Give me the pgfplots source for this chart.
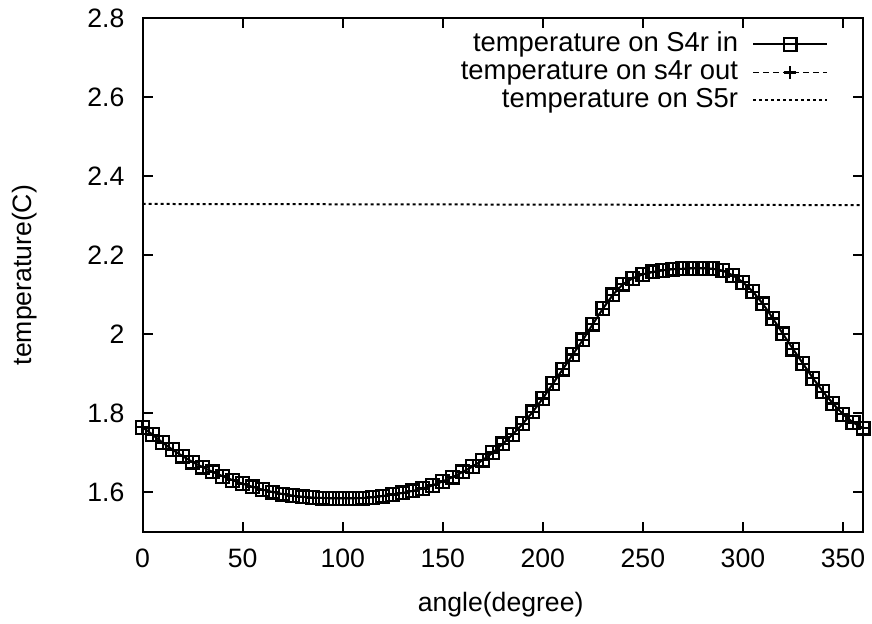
\documentclass[border=0pt]{standalone}
\usepackage{fontspec}
\setmainfont{Liberation Sans}
\usepackage{pgfplots}
\pgfplotsset{compat=1.18}
\usepackage{pgfplotstable}
\pgfplotstableread{
x y
0 1.765
5 1.746
10 1.726
15 1.708
20 1.692
25 1.677
30 1.664
35 1.652
40 1.641
45 1.631
50 1.622
55 1.614
60 1.607
65 1.601
70 1.596
75 1.592
80 1.589
85 1.587
90 1.586
95 1.585
100 1.585
105 1.585
110 1.586
115 1.588
120 1.591
125 1.595
130 1.599
135 1.604
140 1.610
145 1.618
150 1.628
155 1.639
160 1.652
165 1.666
170 1.682
175 1.701
180 1.723
185 1.747
190 1.774
195 1.804
200 1.838
205 1.875
210 1.912
215 1.949
220 1.986
225 2.026
230 2.065
235 2.100
240 2.127
245 2.142
250 2.152
255 2.158
260 2.162
265 2.165
270 2.166
275 2.167
280 2.167
285 2.166
290 2.161
295 2.149
300 2.132
305 2.108
310 2.077
315 2.040
320 2.001
325 1.963
330 1.926
335 1.889
340 1.855
345 1.825
350 1.798
355 1.777
360 1.763
}\tblin
\pgfplotstableread{
x y
0 1.765
5 1.746
10 1.726
15 1.708
20 1.692
25 1.677
30 1.664
35 1.652
40 1.641
45 1.631
50 1.622
55 1.614
60 1.607
65 1.601
70 1.596
75 1.592
80 1.589
85 1.587
90 1.586
95 1.585
100 1.585
105 1.585
110 1.586
115 1.588
120 1.591
125 1.595
130 1.599
135 1.604
140 1.610
145 1.618
150 1.628
155 1.639
160 1.652
165 1.666
170 1.682
175 1.701
180 1.723
185 1.747
190 1.774
195 1.804
200 1.838
205 1.875
210 1.912
215 1.949
220 1.986
225 2.026
230 2.065
235 2.100
240 2.127
245 2.142
250 2.152
255 2.158
260 2.162
265 2.165
270 2.166
275 2.167
280 2.167
285 2.166
290 2.161
295 2.149
300 2.132
305 2.108
310 2.077
315 2.040
320 2.001
325 1.963
330 1.926
335 1.889
340 1.855
345 1.825
350 1.798
355 1.777
360 1.763
}\tblout
\pgfplotstableread{
x y
0 2.330
360 2.327
}\tblfive
\begin{document}
\begin{tikzpicture}[font=\fontsize{13.3}{16}\selectfont]
\begin{axis}[
  scale only axis,
  width=360.2pt, height=256.9pt,
  xmin=0, xmax=360, ymin=1.5, ymax=2.8,
  xtick={0,50,100,150,200,250,300,350},
  ytick={1.6,1.8,2,2.2,2.4,2.6,2.8},
  tick align=inside,
  major tick length=5pt,
  axis line style={line width=1pt},
  every tick/.style={line width=1pt, black},
  /pgf/number format/assume math mode=true,
  tick label style={font=\fontsize{13.3}{16}\selectfont},
  xticklabel style={yshift=-5pt},
  yticklabel style={xshift=-5.6pt},
  xlabel={angle(degree)},
  ylabel={temperature(C)},
  every axis x label/.style={at={(axis description cs:0.497,-0.142)}, anchor=center},
  every axis y label/.style={at={(axis description cs:-0.1632,0.5)}, rotate=90, anchor=center},
  clip=false,
  legend plot pos=right,
  legend cell align=right,
  legend style={at={(axis description cs:0.952,0.977)}, anchor=north east, draw=none, fill=none,
    inner sep=0pt, row sep=0pt, font=\fontsize{13.7}{16}\selectfont,
    nodes={inner sep=1pt, text height=9.5pt, text depth=2.5pt},
    /tikz/every odd column/.style={column sep=6pt}},
  legend image code/.code={\draw[mark repeat=2,mark phase=2,#1] plot coordinates {(0cm,0cm) (0.65cm,0cm) (1.3cm,0cm)};},
]
\addplot[black, line width=1pt, mark=square, mark size=3.2pt, mark options={solid, line width=1.1pt}] table[x=x,y=y] {\tblin};
\addlegendentry{temperature on S4r in}
\addplot[black, line width=0.8pt, dash pattern=on 3pt off 2pt, mark=+, mark size=3.2pt, mark options={solid, line width=1.1pt}] table[x=x,y=y] {\tblout};
\addlegendentry{temperature on s4r out}
\addplot[black, line width=1pt, dash pattern=on 1.5pt off 1.5pt] table[x=x,y=y] {\tblfive};
\addlegendentry{temperature on S5r}
\end{axis}
\pgfresetboundingbox
\path[use as bounding box] (current axis.south west) ++(-71.3pt,-46pt) rectangle ++(436pt,312pt);
\end{tikzpicture}
\end{document}
